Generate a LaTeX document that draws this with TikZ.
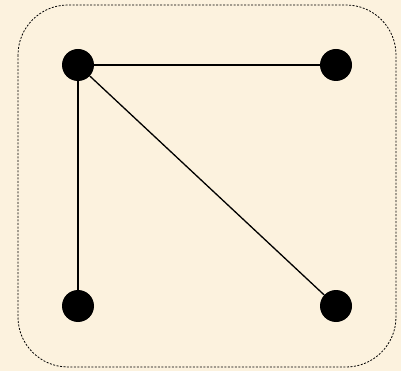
\documentclass[tikz,border=0pt]{standalone}
\definecolor{bgcream}{HTML}{FCF2DE}
\tikzset{
  vtx/.style={circle,fill=black,inner sep=0pt,minimum size=32pt},
  edge/.style={line width=1.3pt,black},
  frame/.style={line width=0.8pt,dash pattern=on 2pt off 1.5pt,rounded corners=50pt}
}
\begin{document}
\begin{tikzpicture}[x=1pt,y=-1pt]
\fill[bgcream] (0,0) rectangle (401,371);
\useasboundingbox (0,0) rectangle (401,371);
\draw[frame] (18,5) rectangle (396,367);
\node[vtx] (a) at (78,65) {};
\node[vtx] (b) at (336,65) {};
\node[vtx] (c) at (78,306) {};
\node[vtx] (d) at (336,306) {};
\draw[edge] (a) -- (b);
\draw[edge] (a) -- (c);
\draw[edge] (a) -- (d);
\end{tikzpicture}
\end{document}
